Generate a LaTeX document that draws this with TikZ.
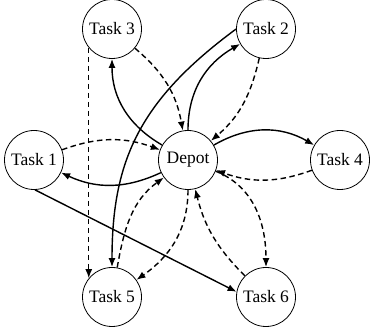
\documentclass[tikz,border=0pt]{standalone}
\usepackage{fontspec}
\setmainfont{Liberation Serif}
\usetikzlibrary{arrows.meta}
\begin{document}
\begin{tikzpicture}[x=1pt,y=1pt,
  task/.style={circle, draw, line width=0.8pt, minimum size=59pt, inner sep=0pt, font=\fontsize{17.5}{20}\selectfont},
  sarr/.style={-{Latex[length=9pt,width=7pt]}, line width=1.4pt},
  darr/.style={sarr, dash pattern=on 5.5pt off 3.5pt}]
\useasboundingbox (0,0) rectangle (370,332);
\node[task] (t3) at (112,303) {Task 3};
\node[task] (t2) at (266,303) {Task 2};
\node[task] (t1) at (34,172) {Task 1};
\node[task] (dep) at (188,172) {Depot};
\node[task] (t4) at (340,172) {Task 4};
\node[task] (t5) at (112,35) {Task 5};
\node[task] (t6) at (266,35) {Task 6};
% solid
\draw[sarr] (dep) to[out=150,in=-90] (t3);
\draw[sarr] (dep) to[out=90,in=210] (t2);
\draw[sarr] (dep) to[out=30,in=150] (t4);
\draw[sarr] (dep) to[out=205,in=-25] (t1);
\draw[sarr] (t2.180) .. controls (140,232) and (112,172) .. (t5.north);
\draw[sarr] (t1.-88) -- (t6.170);
% dashed
\draw[darr] (t1) to[out=20,in=160] (dep);
\draw[darr] (t4) to[out=200,in=-20] (dep);
\draw[darr] (t3) to[out=-40,in=100] (dep);
\draw[darr] (t2) to[out=257,in=40] (dep);
\draw[darr] (t3.219) -- (t5.141);
\draw[darr] (t5) to[out=80,in=216] (dep);
\draw[darr] (dep) to[out=-90,in=35] (t5);
\draw[darr] (t6) to[out=135,in=-76] (dep);
\draw[darr] (dep) to[out=-22,in=90] (t6);
\end{tikzpicture}
\end{document}
